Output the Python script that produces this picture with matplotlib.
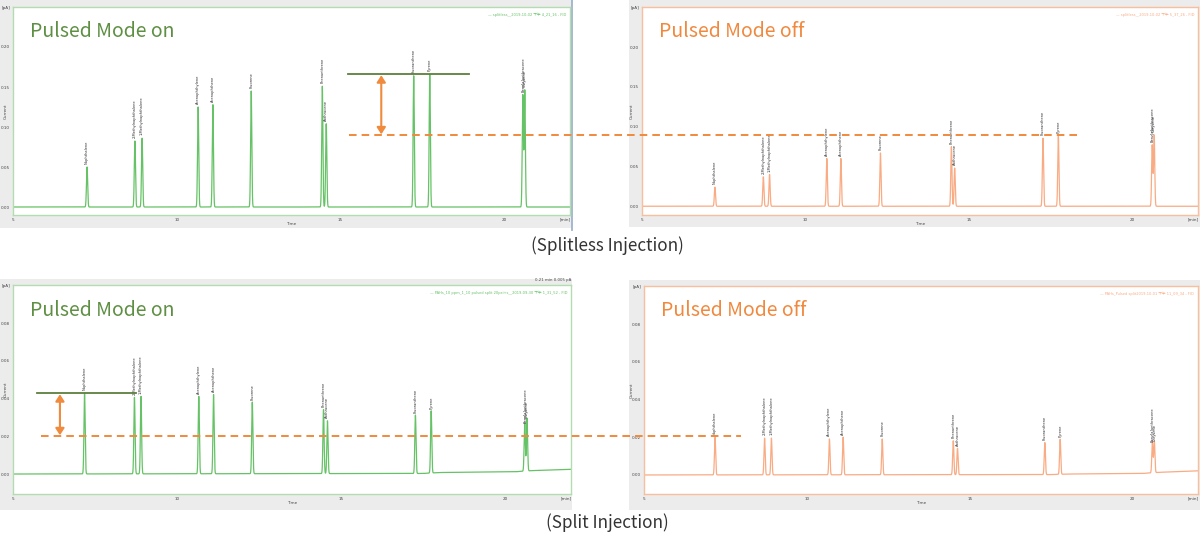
import numpy as np
import matplotlib
matplotlib.use("Agg")
import matplotlib.pyplot as plt
from matplotlib.lines import Line2D
from matplotlib.patches import Rectangle, FancyArrowPatch

plt.rcParams['font.family'] = ['DejaVu Sans', 'Noto Sans CJK SC']

# ---------------- data ----------------
compounds = ["Naphthalene", "2-Methylnaphthalene", "1-Methylnaphthalene",
             "Acenaphthylene", "Acenaphthene", "Fluorene", "Phenanthrene",
             "Anthracene", "Fluoranthene", "Pyrene", "Benz[a]anthracene", "Chrysene"]

rt_splitless_on = [7.26, 8.72, 8.94, 10.65, 11.10, 12.27, 14.44, 14.56, 17.23, 17.72, 20.56, 20.62]
h_splitless_on = [0.050, 0.0825, 0.086, 0.125, 0.128, 0.145, 0.151, 0.104, 0.164, 0.166, 0.140, 0.146]

rt_splitless_off = [7.23, 8.71, 8.90, 10.65, 11.08, 12.29, 14.46, 14.56, 17.26, 17.73, 20.60, 20.66]
h_splitless_off = [0.024, 0.037, 0.040, 0.060, 0.060, 0.067, 0.075, 0.048, 0.0855, 0.088, 0.077, 0.0895]

rt_split_on = [7.18, 8.70, 8.90, 10.66, 11.11, 12.29, 14.46, 14.58, 17.26, 17.74, 20.59, 20.66]
h_split_on = [0.0429, 0.0406, 0.0411, 0.0411, 0.042, 0.038, 0.034, 0.028, 0.031, 0.033, 0.0255, 0.028]

rt_split_off = [7.18, 8.70, 8.91, 10.69, 11.11, 12.31, 14.49, 14.62, 17.30, 17.77, 20.60, 20.66]
h_split_off = [0.020, 0.0195, 0.0195, 0.019, 0.020, 0.019, 0.018, 0.014, 0.017, 0.0186, 0.016, 0.0168]

# baseline drift (time, pA) for split runs
drift_t = [5.0, 17.5, 18.0, 20.3, 20.8, 22.0]
drift_split_on = [0.0, 0.0003, 0.0008, 0.0012, 0.0018, 0.0025]
drift_split_off = [0.0, 0.0002, 0.0005, 0.0008, 0.0014, 0.0022]

legend_texts = ["splitless__2019-10-02 下午 4_21_16 - FID",
                "splitless__2019-10-02 下午 5_37_26 - FID",
                "PAHs_10 ppm_1_10 pulsed split 20psi+s__2019-09-30 下午 1_31_52 - FID",
                "PAHs_Pulsed split2019-10-01 下午 11_09_34 - FID"]
panel_titles = ["Pulsed Mode on", "Pulsed Mode off", "Pulsed Mode on", "Pulsed Mode off"]
captions = ["(Splitless Injection)", "(Split Injection)"]

yticks_splitless = [0.00, 0.05, 0.10, 0.15, 0.20, 0.25]
yticks_split = [0.00, 0.02, 0.04, 0.06, 0.08, 0.10]
xticks = [5, 10, 15, 20]

# annotation extents (minutes)
top_green_span = (15.21, 18.93)
top_dash_from_on = 15.27
top_dash_to_off = 18.34
top_arrow_t = 16.24
bot_green_span = (5.73, 8.75)
bot_dash_from_on = 5.85
bot_dash_to_off = 7.98
bot_arrow_t = 6.43

# ---------------- figure ----------------
W, H = 1200, 537
fig = plt.figure(figsize=(W / 100, H / 100), dpi=100)
fig.patch.set_facecolor('white')

def frac(x0, y0, x1, y1):
    return [x0 / W, 1 - y1 / H, (x1 - x0) / W, (y1 - y0) / H]

GRAY = '#ececec'
GREEN_LINE = '#66c266'
ORANGE_LINE = '#f9ab84'
GREEN_SPINE = '#b3ddb0'
ORANGE_SPINE = '#f8bf9c'
GREEN_TXT = '#5e8f43'
ORANGE_TXT = '#f0893e'

# gray panel backgrounds (pixel boxes)
bgs = [(0, 0, 572, 228), (629, 0, 1200, 227), (0, 279, 572, 510), (629, 280, 1200, 510)]
for (x0, y0, x1, y1) in bgs:
    fig.add_artist(Rectangle((x0 / W, 1 - y1 / H), (x1 - x0) / W, (y1 - y0) / H,
                             transform=fig.transFigure, facecolor=GRAY, edgecolor='none', zorder=0))
fig.add_artist(Line2D([572 / W, 572 / W], [1 - 230 / H, 1.0], transform=fig.transFigure,
                      color='#9db4cc', lw=1.3, zorder=1))

boxes = [(13, 7, 570, 215), (642, 7, 1198, 215), (13, 285, 571, 494), (644, 286, 1198, 494)]
ylims = [(-0.010, 0.25), (-0.011, 0.2505), (-0.0106, 0.1003), (-0.0101, 0.1003)]
rts = [rt_splitless_on, rt_splitless_off, rt_split_on, rt_split_off]
hs = [h_splitless_on, h_splitless_off, h_split_on, h_split_off]
drifts = [None, None, drift_split_on, drift_split_off]
line_cols = [GREEN_LINE, ORANGE_LINE, GREEN_LINE, ORANGE_LINE]
spine_cols = [GREEN_SPINE, ORANGE_SPINE, GREEN_SPINE, ORANGE_SPINE]
txt_cols = [GREEN_TXT, ORANGE_TXT, GREEN_TXT, ORANGE_TXT]
ytick_sets = [yticks_splitless, yticks_splitless, yticks_split, yticks_split]
ylabel_px = [6, 632, 6, 632]

t = np.linspace(5, 22, 24000)
sigma = 0.018
axes = []
for i in range(4):
    ax = fig.add_axes(frac(*boxes[i]))
    ax.set_zorder(2)
    ax.set_facecolor('white')
    ax.set_xlim(5, 22)
    ax.set_ylim(*ylims[i])
    y = np.zeros_like(t)
    for r, h in zip(rts[i], hs[i]):
        y += h * np.exp(-0.5 * ((t - r) / sigma) ** 2)
    if drifts[i] is not None:
        y += np.interp(t, drift_t, drifts[i])
    ax.plot(t, y, color=line_cols[i], lw=0.9)
    for r, h, name in zip(rts[i], hs[i], compounds):
        ax.annotate(name, (r, h), xytext=(0, 2), textcoords='offset points',
                    rotation=90, ha='center', va='bottom', fontsize=2.6, color='#333333')
    for s in ax.spines.values():
        s.set_color(spine_cols[i])
        s.set_linewidth(1.0)
    yt = ytick_sets[i]
    ax.set_yticks(yt)
    ax.set_yticklabels(['%.2f' % v for v in yt[:-1]] + ['[pA]'])
    ax.set_xticks(xticks + [21.85])
    ax.set_xticklabels([str(v) for v in xticks] + ['[min]'])
    ax.tick_params(length=0, labelsize=3, labelcolor='#444444', pad=2)
    ax.set_xlabel('Time', fontsize=3, color='#444444', labelpad=0.5)
    ax.set_ylabel('Current', fontsize=3, color='#444444', va='center')
    x0 = boxes[i][0]
    ax.yaxis.set_label_coords((ylabel_px[i] - x0) / (boxes[i][2] - x0), 0.5)
    ax.text(0.993, 0.962, '— ' + legend_texts[i], transform=ax.transAxes, ha='right', va='center',
            fontsize=2.6, color=line_cols[i],
            family=['DejaVu Sans', 'Noto Sans CJK SC'])
    ax.text(0.031, 0.88, panel_titles[i], transform=ax.transAxes, ha='left', va='center',
            fontsize=14, color=txt_cols[i], family=['Noto Sans CJK SC', 'DejaVu Sans'],
            fontweight='light')
    axes.append(ax)

axes[2].text(1.0, 1.012, '0.21 min 0.005 pA', transform=axes[2].transAxes, ha='right', va='bottom',
             fontsize=2.8, color='#444444')

fig.text(607 / W, 1 - 246 / H, captions[0], ha='center', va='center', fontsize=12.3,
         color='#333333', family=['Noto Sans CJK SC', 'DejaVu Sans'])
fig.text(607 / W, 1 - 523 / H, captions[1], ha='center', va='center', fontsize=12.3,
         color='#333333', family=['Noto Sans CJK SC', 'DejaVu Sans'])

# ---------------- annotations linking panels ----------------
inv = fig.transFigure.inverted()

def fpt(ax, x, y):
    return inv.transform(ax.transData.transform((x, y)))

def add_compare(ax_on, ax_off, h_on, h_off, green_span, dash_from, dash_to, arrow_t):
    g0 = fpt(ax_on, green_span[0], max(h_on))
    g1 = fpt(ax_on, green_span[1], max(h_on))
    fig.add_artist(Line2D([g0[0], g1[0]], [g0[1], g1[1]], transform=fig.transFigure,
                          color='#5d7f3f', lw=1.3, zorder=5))
    d0 = fpt(ax_on, dash_from, max(h_off))
    d1 = fpt(ax_off, dash_to, max(h_off))
    fig.add_artist(Line2D([d0[0], d1[0]], [d0[1], d0[1]], transform=fig.transFigure,
                          color='#f08a3c', lw=1.4, ls=(0, (3.9, 2.6)), zorder=5))
    a0 = fpt(ax_on, arrow_t, max(h_on))
    a1 = fpt(ax_on, arrow_t, max(h_off))
    fig.add_artist(FancyArrowPatch((a0[0], a0[1] - 0.002), (a1[0], a1[1] + 0.002),
                                   transform=fig.transFigure, arrowstyle='<|-|>,head_length=4,head_width=2.6',
                                   color='#f08a3c', lw=1.5, zorder=6, shrinkA=0, shrinkB=0))

add_compare(axes[0], axes[1], h_splitless_on, h_splitless_off, top_green_span,
            top_dash_from_on, top_dash_to_off, top_arrow_t)
add_compare(axes[2], axes[3], h_split_on, h_split_off, bot_green_span,
            bot_dash_from_on, bot_dash_to_off, bot_arrow_t)

fig.savefig('out.png', dpi=100, facecolor='white')
